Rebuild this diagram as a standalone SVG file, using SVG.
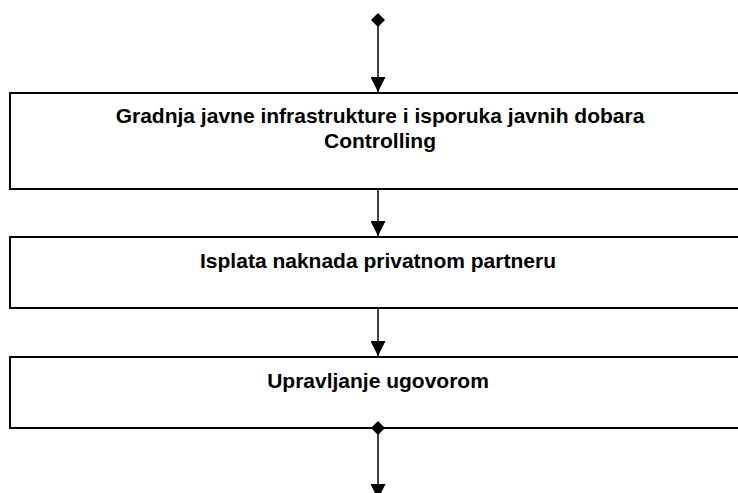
<svg xmlns="http://www.w3.org/2000/svg" width="738" height="493" viewBox="0 0 738 493">
  <style>
    .box { fill: #ffffff; stroke: #000000; stroke-width: 2; }
    .label { font-family: "Liberation Sans", Arial, sans-serif; font-weight: bold; font-size: 21px; fill: #000000; text-anchor: middle; }
    .flow { stroke: #000000; stroke-width: 1.5; fill: none; }
  </style>
  <defs>
    <marker id="arrow" markerWidth="16" markerHeight="15" refX="16" refY="8" orient="auto" markerUnits="userSpaceOnUse" viewBox="0 0 16 16">
      <path d="M0,0 L16,8 L0,16 Z" fill="#000000"/>
    </marker>
    <marker id="diamond" markerWidth="14" markerHeight="14" refX="7" refY="7" orient="auto" markerUnits="userSpaceOnUse" viewBox="0 0 14 14">
      <path d="M7,0 L14,7 L7,14 L0,7 Z" fill="#000000"/>
    </marker>
  </defs>

  <rect width="738" height="493" fill="#ffffff"/>

  <g id="node-gradnja">
    <rect class="box" x="10" y="93" width="736" height="96"/>
    <text class="label" x="380" y="123">Gradnja javne infrastrukture i isporuka javnih dobara</text>
    <text class="label" x="380" y="148">Controlling</text>
  </g>

  <g id="node-isplata">
    <rect class="box" x="10" y="237" width="736" height="71"/>
    <text class="label" x="378" y="268">Isplata naknada privatnom partneru</text>
  </g>

  <g id="node-upravljanje">
    <rect class="box" x="10" y="357" width="736" height="71"/>
    <text class="label" x="378" y="388">Upravljanje ugovorom</text>
  </g>

  <g id="connectors">
    <line class="flow" x1="378" y1="20" x2="378" y2="92" marker-start="url(#diamond)" marker-end="url(#arrow)"/>
    <line class="flow" x1="378" y1="189" x2="378" y2="236"  marker-end="url(#arrow)"/>
    <line class="flow" x1="378" y1="308" x2="378" y2="356" marker-end="url(#arrow)"/>
    <line class="flow" x1="378" y1="428" x2="378" y2="499" marker-start="url(#diamond)" marker-end="url(#arrow)"/>
  </g>
</svg>
